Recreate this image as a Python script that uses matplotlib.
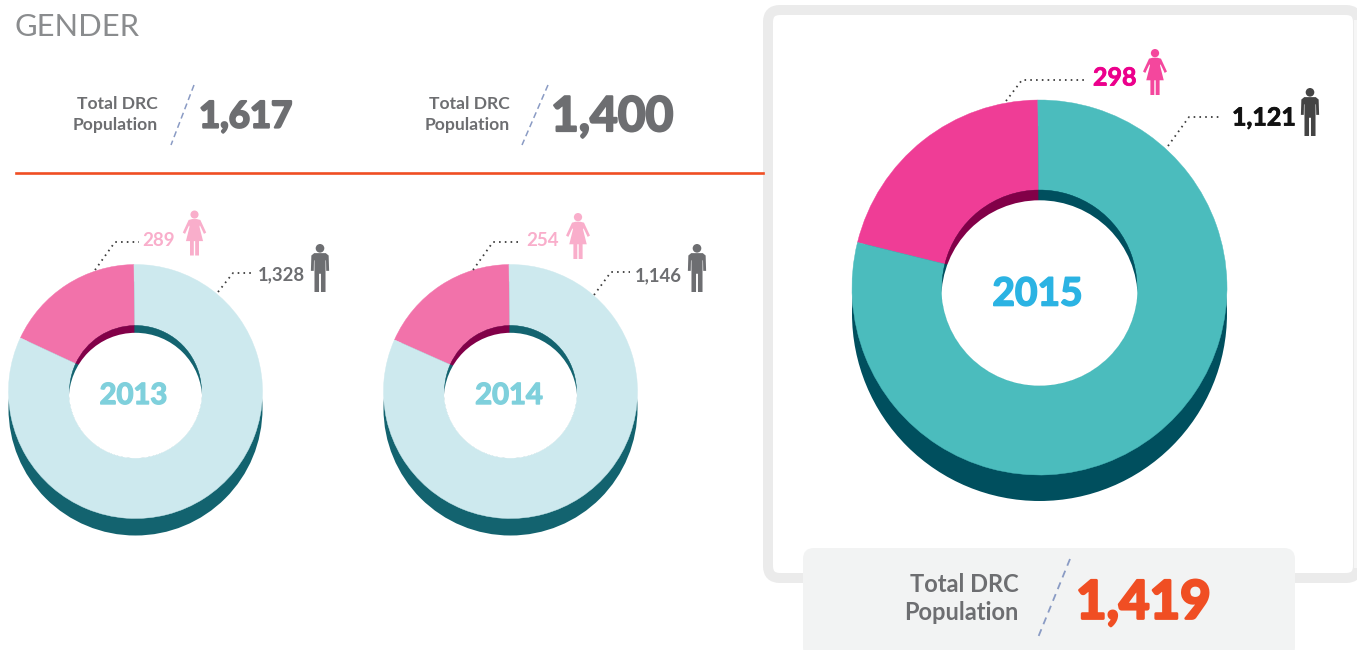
import matplotlib
matplotlib.use("Agg")
import matplotlib.pyplot as plt
import matplotlib.patheffects as pe
from matplotlib.patches import Circle, Polygon, FancyBboxPatch, Rectangle

plt.rcParams['font.family'] = ['Lato', 'DejaVu Sans']

years = ['2013', '2014', '2015']
female = [289, 254, 298]
male = [1328, 1146, 1121]
totals = ['1,617', '1,400', '1,419']
female_labels = ['289', '254', '298']
male_labels = ['1,328', '1,146', '1,121']

fig = plt.figure(figsize=(13.57, 6.5), dpi=100)
ax = fig.add_axes([0, 0, 1, 1])

FEMALE_ICON = [(-.05, .19), (.05, .19), (.13, .21), (.26, .49), (.21, .52), (.12, .33), (.11, .36),
               (.19, .68), (.10, .68), (.10, 1), (.015, 1), (.015, .68), (-.015, .68), (-.015, 1),
               (-.10, 1), (-.10, .68), (-.19, .68), (-.11, .36), (-.12, .33), (-.21, .52), (-.26, .49), (-.13, .21)]
MALE_ICON = [(-.12, .19), (.12, .19), (.18, .24), (.19, .56), (.13, .56), (.125, .34), (.115, .34),
             (.115, 1), (.02, 1), (.02, .62), (-.02, .62), (-.02, 1), (-.115, 1), (-.115, .34),
             (-.125, .34), (-.13, .56), (-.19, .56), (-.18, .24)]


def heavy(w, color):
    return [pe.withStroke(linewidth=w, foreground=color)]


def icon(shape, x, top, h, color):
    ax.add_patch(Circle((x, top + .09 * h), .09 * h, fc=color, lw=0, zorder=6))
    ax.add_patch(Polygon([(x + a * h, top + b * h) for a, b in shape], closed=True, fc=color, lw=0, zorder=6))


def leader(pts):
    ax.plot([p[0] for p in pts], [p[1] for p in pts], color='#3c3c3c', lw=1.3,
            ls=(0, (0.9, 2.3)), zorder=5)


def donut(f, m, cx, cy, R, r, depth, shift, tilt, cols):
    c_m, c_f, c_sh, c_dark = cols
    ax.add_patch(Circle((cx, cy + depth), R, fc=c_sh, lw=0, zorder=1))
    face, _ = ax.pie([f, m], colors=[c_f, c_m], center=(cx, cy), radius=R, startangle=-90 - tilt,
                     counterclock=False, wedgeprops=dict(width=R - r, zorder=2))
    inner, _ = ax.pie([f, m], colors=[c_dark, c_sh], center=(cx, cy), radius=r, startangle=-90 - tilt,
                      counterclock=False, wedgeprops=dict(zorder=2))
    for w in list(face) + list(inner):
        w.set_edgecolor(w.get_facecolor())
        w.set_linewidth(0.3)
    clip = Circle((cx, cy), r + 0.7, transform=ax.transData)
    white = Circle((cx, cy + shift), r + 0.7, fc='white', lw=0, zorder=3)
    ax.add_patch(white)
    white.set_clip_path(clip)


small = ('#cde9ee', '#f272aa', '#13636f', '#820048')
large = ('#4bbcbd', '#ef3d96', '#004f5e', '#820048')
donut(female[0], male[0], 135.5, 391.5, 127, 66, 17, 8, 0.7, small)
donut(female[1], male[1], 510.5, 391.5, 127, 66, 17, 8, 0.7, small)
donut(female[2], male[2], 1039.5, 287.5, 187.5, 97.5, 26, 11, 0.5, large)

# highlighted panel
ax.add_patch(FancyBboxPatch((768, 10), 590, 568, boxstyle='round,pad=0,rounding_size=12',
                            fc='none', ec='#ebebeb', lw=7.2, zorder=0))
ax.add_patch(Rectangle((1354, 20), 4, 548, fc='#f6f6f6', lw=0, zorder=0.5))
ax.add_patch(FancyBboxPatch((803, 548), 492, 110, boxstyle='round,pad=0,rounding_size=11',
                            fc='#f2f3f3', ec='none', zorder=1))

ax.plot([16, 763], [173, 173], color='#f04e23', lw=1.9, zorder=1)
ax.text(14.5, 27, 'GENDER', fontsize=22.2, color='#8a8c8e', va='center', ha='left')

# totals
for x_r, x_n, slash, tot, fs in [(158, 199, ((194, 85), (171, 145)), totals[0], 26.3),
                                 (510, 551, ((548, 85), (522, 145)), totals[1], 34.5)]:
    ax.text(x_r, 104, 'Total DRC', fontsize=12.6, fontweight='bold', color='#6d6e71', ha='right', va='center')
    ax.text(x_r, 125, 'Population', fontsize=12.6, fontweight='bold', color='#6d6e71', ha='right', va='center')
    ax.plot(*zip(*slash), color='#8a9bc4', lw=1.1, ls=(0, (4, 2.5)))
    ax.text(x_n, 117, tot, fontsize=fs, fontweight='bold', color='#6d6e71', ha='left', va='center',
            path_effects=heavy(1.6, '#6d6e71'))

ax.text(1019, 585, 'Total DRC', fontsize=17, fontweight='bold', color='#6d6e71', ha='right', va='center', zorder=3)
ax.text(1019, 612, 'Population', fontsize=17, fontweight='bold', color='#6d6e71', ha='right', va='center', zorder=3)
ax.plot([1070, 1037], [559, 640], color='#8a9bc4', lw=1.3, ls=(0, (4, 3)), zorder=3)
ax.text(1076, 603, totals[2], fontsize=38, fontweight='bold', color='#f04e23', ha='left', va='center', zorder=3,
        path_effects=heavy(2, '#f04e23'))

# year labels
ax.text(133.5, 396, years[0], fontsize=21, fontweight='bold', color='#7fd0dc', ha='center', va='center', zorder=4,
        path_effects=heavy(1, '#7fd0dc'))
ax.text(509, 396, years[1], fontsize=21, fontweight='bold', color='#7fd0dc', ha='center', va='center', zorder=4,
        path_effects=heavy(1, '#7fd0dc'))
ax.text(1037.5, 294, years[2], fontsize=28, fontweight='bold', color='#2bb3e3', ha='center', va='center', zorder=4,
        path_effects=heavy(1.2, '#2bb3e3'))

# callouts
leader([(95, 270), (115, 242), (139, 242)])
leader([(218, 292), (233, 273), (252, 273)])
leader([(473, 270), (493, 242), (522, 242)])
leader([(594, 295), (611, 272), (630, 272)])
leader([(1006, 101), (1022, 80), (1086, 80)])
leader([(1168, 146), (1189, 117), (1222, 117)])

ax.text(142, 240, female_labels[0], fontsize=13.5, fontweight='bold', color='#f9aecb', va='center')
ax.text(258, 275, male_labels[0], fontsize=13.3, fontweight='bold', color='#6d6e71', va='center')
ax.text(526, 240, female_labels[1], fontsize=13.5, fontweight='bold', color='#f9aecb', va='center')
ax.text(635, 276, male_labels[1], fontsize=13.3, fontweight='bold', color='#6d6e71', va='center')
ax.text(1093, 78, female_labels[2], fontsize=18, fontweight='bold', color='#ec008c', va='center',
        path_effects=heavy(0.6, '#ec008c'))
ax.text(1232, 118, male_labels[2], fontsize=18, fontweight='bold', color='#111111', va='center',
        path_effects=heavy(0.6, '#111111'))

icon(FEMALE_ICON, 194.5, 210.5, 45, '#f9aecb')
icon(MALE_ICON, 320, 244, 48, '#6d6e71')
icon(FEMALE_ICON, 578, 213, 46, '#f9aecb')
icon(MALE_ICON, 697, 244, 48, '#6d6e71')
icon(FEMALE_ICON, 1155, 49, 46, '#f4479d')
icon(MALE_ICON, 1310, 88, 48, '#444444')

ax.set_xlim(0, 1357)
ax.set_ylim(650, 0)
ax.set_aspect('auto')
ax.axis('off')
fig.savefig('out.png', dpi=100, facecolor='white')
